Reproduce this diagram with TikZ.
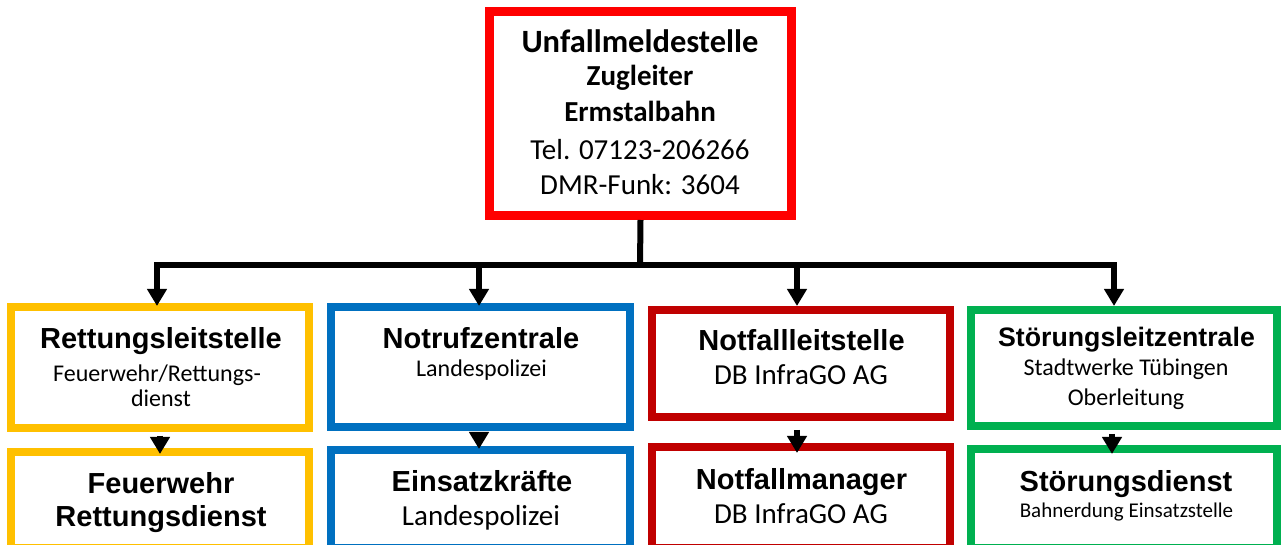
\documentclass[tikz,border=0pt]{standalone}
\usepackage{fontspec}
\setmainfont{Carlito}
\newfontfamily\arialfam{Liberation Sans}
\usetikzlibrary{arrows.meta}
\definecolor{cyel}{HTML}{FFC000}
\definecolor{cblue}{HTML}{0070C0}
\definecolor{cdred}{HTML}{C00000}
\definecolor{cgreen}{HTML}{00B050}
\definecolor{cred}{HTML}{FF0000}
\tikzset{
  box/.style={draw, line width=8pt, inner sep=0pt, fill=white},
  conn/.style={line width=6pt, black},
  arr/.style={-{Triangle[width=19pt,length=17pt]}},
  txt/.style={anchor=base, inner sep=0pt},
  head/.style={txt, font=\arialfam\bfseries\fontsize{29}{30}\selectfont},
  sub/.style={txt, font=\fontsize{24}{26}\selectfont},
  subL/.style={txt, font=\fontsize{29}{30}\selectfont},
  topb/.style={txt, font=\bfseries\fontsize{29}{30}\selectfont},
}
\begin{document}
\begin{tikzpicture}[x=1pt,y=1pt]
\clip (0,0) rectangle (1283,544);
\fill[white] (0,0) rectangle (1283,544);
% boxes
\node[box, draw=cred, line width=9pt, minimum width=302pt, minimum height=204pt] (top) at (640.5,430.5) {};
\node[box, draw=cyel, minimum width=298pt, minimum height=121pt] (y1) at (160,176.5) {};
\node[box, draw=cyel, minimum width=298pt, minimum height=96pt] (y2) at (160,44) {};
\node[box, draw=cblue, minimum width=299pt, minimum height=120pt] (b1) at (480.5,177) {};
\node[box, draw=cblue, minimum width=299pt, minimum height=98pt] (b2) at (480.5,45) {};
\node[box, draw=cdred, minimum width=298pt, minimum height=107pt] (r1) at (801,180.5) {};
\node[box, draw=cdred, minimum width=298pt, minimum height=101pt] (r2) at (801,46.5) {};
\node[box, draw=cgreen, minimum width=306pt, minimum height=116pt] (g1) at (1124,176) {};
\node[box, draw=cgreen, minimum width=306pt, minimum height=99pt] (g2) at (1124,45.5) {};
% connectors
\coordinate (J) at (640,278.5);
\draw[conn] (top.south) -- (J);
\draw[conn,arr] (J) -| ([xshift=-3pt,yshift=-3pt]y1.north);
\draw[conn,arr] (J) -| ([xshift=-1.5pt,yshift=-3pt]b1.north);
\draw[conn,arr] (J) -| ([xshift=-4pt]r1.north);
\draw[conn,arr] (J) -| ([xshift=-10pt]g1.north);
\draw[conn,arr] ([yshift=-4pt]y1.south) -- ([yshift=-6pt]y2.north);
\draw[conn,arr] ([xshift=-1.5pt,yshift=-4pt]b1.south) -- ([xshift=-1.5pt,yshift=-3pt]b2.north);
\draw[conn,arr] ([xshift=-4pt,yshift=-9pt]r1.south) -- ([xshift=-4pt,yshift=-10pt]r2.north);
\draw[conn,arr] ([xshift=-12pt,yshift=-4pt]g1.south) -- ([xshift=-12pt,yshift=-9pt]g2.north);
% top texts
\node[txt, font=\bfseries\fontsize{32.5}{34}\selectfont] (t1) at (640,491) {Unfallmeldestelle};
\node[topb] (t2) at (640,458) {Zugleiter};
\node[topb] (t3) at (640,422) {Ermstalbahn};
\node[subL] (t4) at (640,384) {Tel. 07123-206266};
\node[subL] (t5) at (640,349) {DMR-Funk: 3604};
% yellow
\node[head] (y1a) at (161,195) {Rettungsleitstelle};
\node[sub] (y1b) at (157,162) {Feuerwehr/Rettungs-};
\node[sub] (y1c) at (161,137) {dienst};
\node[head] (y2a) at (161,51) {Feuerwehr};
\node[head] (y2b) at (161,18) {Rettungsdienst};
% blue
\node[head] (b1a) at (481,195) {Notrufzentrale};
\node[sub] (b1b) at (481.5,167) {Landespolizei};
\node[head] (b2a) at (482,53) {Einsatzkräfte};
\node[subL] (b2b) at (481,19) {Landespolizei};
% red
\node[head] (r1a) at (801.5,193) {Notfallleitstelle};
\node[subL] (r1b) at (801,159) {DB InfraGO AG};
\node[head] (r2a) at (801.5,55) {Notfallmanager};
\node[subL] (r2b) at (801,21) {DB InfraGO AG};
% green
\node[txt, font=\arialfam\bfseries\fontsize{26.7}{28}\selectfont] (g1a) at (1126.5,197) {Störungsleitzentrale};
\node[sub] (g1b) at (1126,168) {Stadtwerke Tübingen};
\node[sub] (g1c) at (1126,139) {Oberleitung};
\node[head] (g2a) at (1126,53) {Störungsdienst};
\node[txt, font=\fontsize{21}{23}\selectfont] (g2b) at (1126.5,27) {Bahnerdung Einsatzstelle};
\end{tikzpicture}
\end{document}
